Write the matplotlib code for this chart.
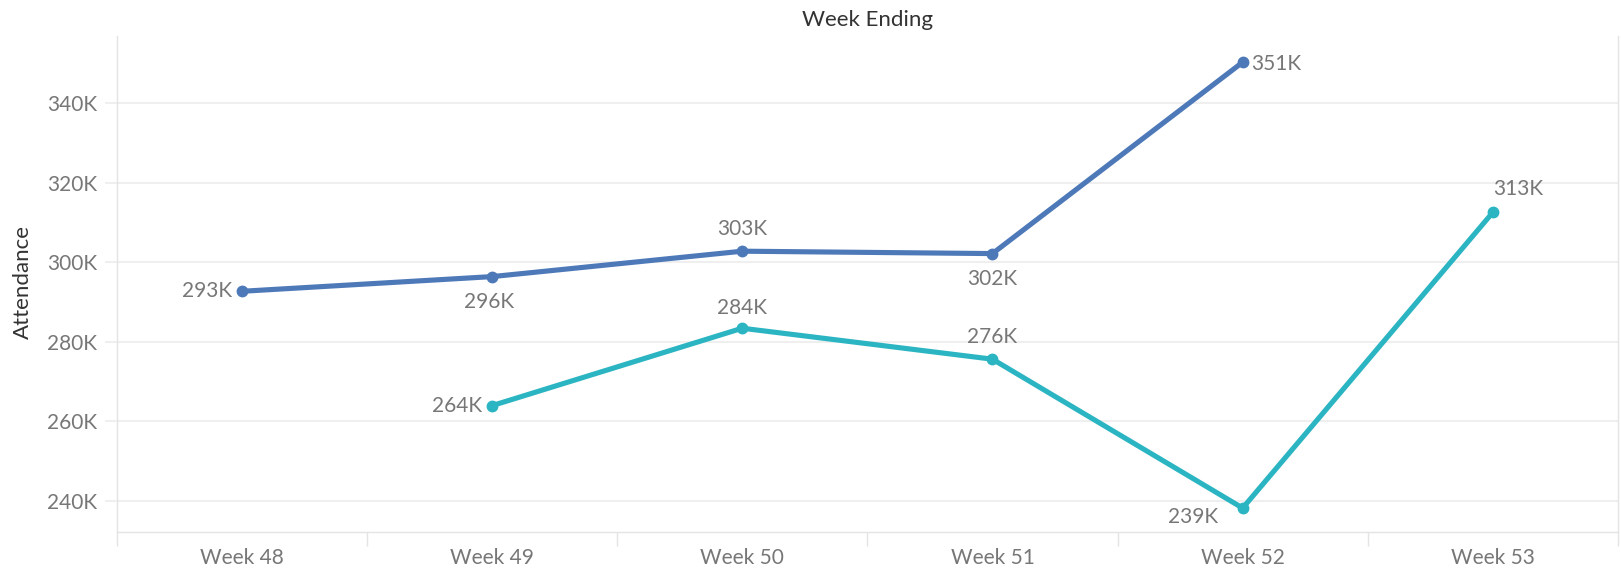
import matplotlib.pyplot as plt
import numpy as np

plt.rcParams.update({'font.family': ['Lato', 'DejaVu Sans']})

weeks = ['Week 48', 'Week 49', 'Week 50', 'Week 51', 'Week 52', 'Week 53']
# attendance in thousands, nan where the series has no value
series_a = [292.7, 296.4, 302.8, 302.2, 350.4, np.nan]
series_b = [np.nan, 263.9, 283.4, 275.6, 238.1, 312.6]
labels_a = ['293K', '296K', '303K', '302K', '351K', '']
labels_b = ['', '264K', '284K', '276K', '239K', '313K']
yticks = [240, 260, 280, 300, 320, 340]

BLUE = '#4e79b9'
TEAL = '#2bb5c2'
GRID = '#efefef'
AXIS = '#e4e4e4'
TXT = '#777777'

# label placement (pixel offsets, alignment) per point
place_a = [(-10, 0, 'right'), (-3, -25, 'center'), (0, 22, 'center'), (0, -25, 'center'), (8, -2, 'left'), None]
place_b = [None, (-10, 0, 'right'), (0, 20, 'center'), (0, 22, 'center'), (-25, -9, 'right'), (0, 23, 'left')]

fig = plt.figure(figsize=(16.21, 5.69), dpi=100)
ax = fig.add_axes([116.7 / 1621, 1 - 532.3 / 569, (1618 - 116.7) / 1621, (532.3 - 36) / 569])

x = np.arange(len(weeks))
ax.plot(x, series_a, color=BLUE, lw=3.7, marker='o', ms=7.5, solid_capstyle='round', zorder=3)
ax.plot(x, series_b, color=TEAL, lw=3.7, marker='o', ms=7.5, solid_capstyle='round', zorder=3)

for vals, labs, places in [(series_a, labels_a, place_a), (series_b, labels_b, place_b)]:
    for i, (v, lab, p) in enumerate(zip(vals, labs, places)):
        if p is None or np.isnan(v):
            continue
        dx, dy, ha = p
        ax.annotate(lab, (i, v), xytext=(dx, dy), textcoords='offset pixels',
                    ha=ha, va='center', fontsize=15, color=TXT, zorder=4)

ax.set_xlim(-0.5, len(weeks) - 0.5)
ax.set_ylim(232, 357)
ax.set_yticks(yticks)
ax.set_yticklabels([f'{t}K' for t in yticks])
ax.set_xticks(x)
ax.set_xticklabels(weeks)
ax.set_xticks(np.arange(len(weeks) + 1) - 0.5, minor=True)
ax.tick_params(axis='x', which='major', length=0, pad=11, labelsize=15, labelcolor=TXT)
ax.tick_params(axis='x', which='minor', length=10, color=AXIS, width=1)
ax.tick_params(axis='y', length=9, color=GRID, width=1.5, pad=5, labelsize=15, labelcolor=TXT)
ax.grid(axis='y', color=GRID, lw=1.5)
ax.set_axisbelow(True)

for side in ['left', 'bottom', 'right']:
    ax.spines[side].set_color(AXIS)
    ax.spines[side].set_linewidth(1)
ax.spines['top'].set_visible(False)

fig.text(23 / 1621, 1 - 282 / 569, 'Attendance', rotation=90, ha='center', va='center',
         fontsize=16, color='#333333')
fig.text(868 / 1621, 1 - 20 / 569, 'Week Ending', ha='center', va='center', fontsize=16, color='#333333')

fig.savefig('out.png', dpi=100)
